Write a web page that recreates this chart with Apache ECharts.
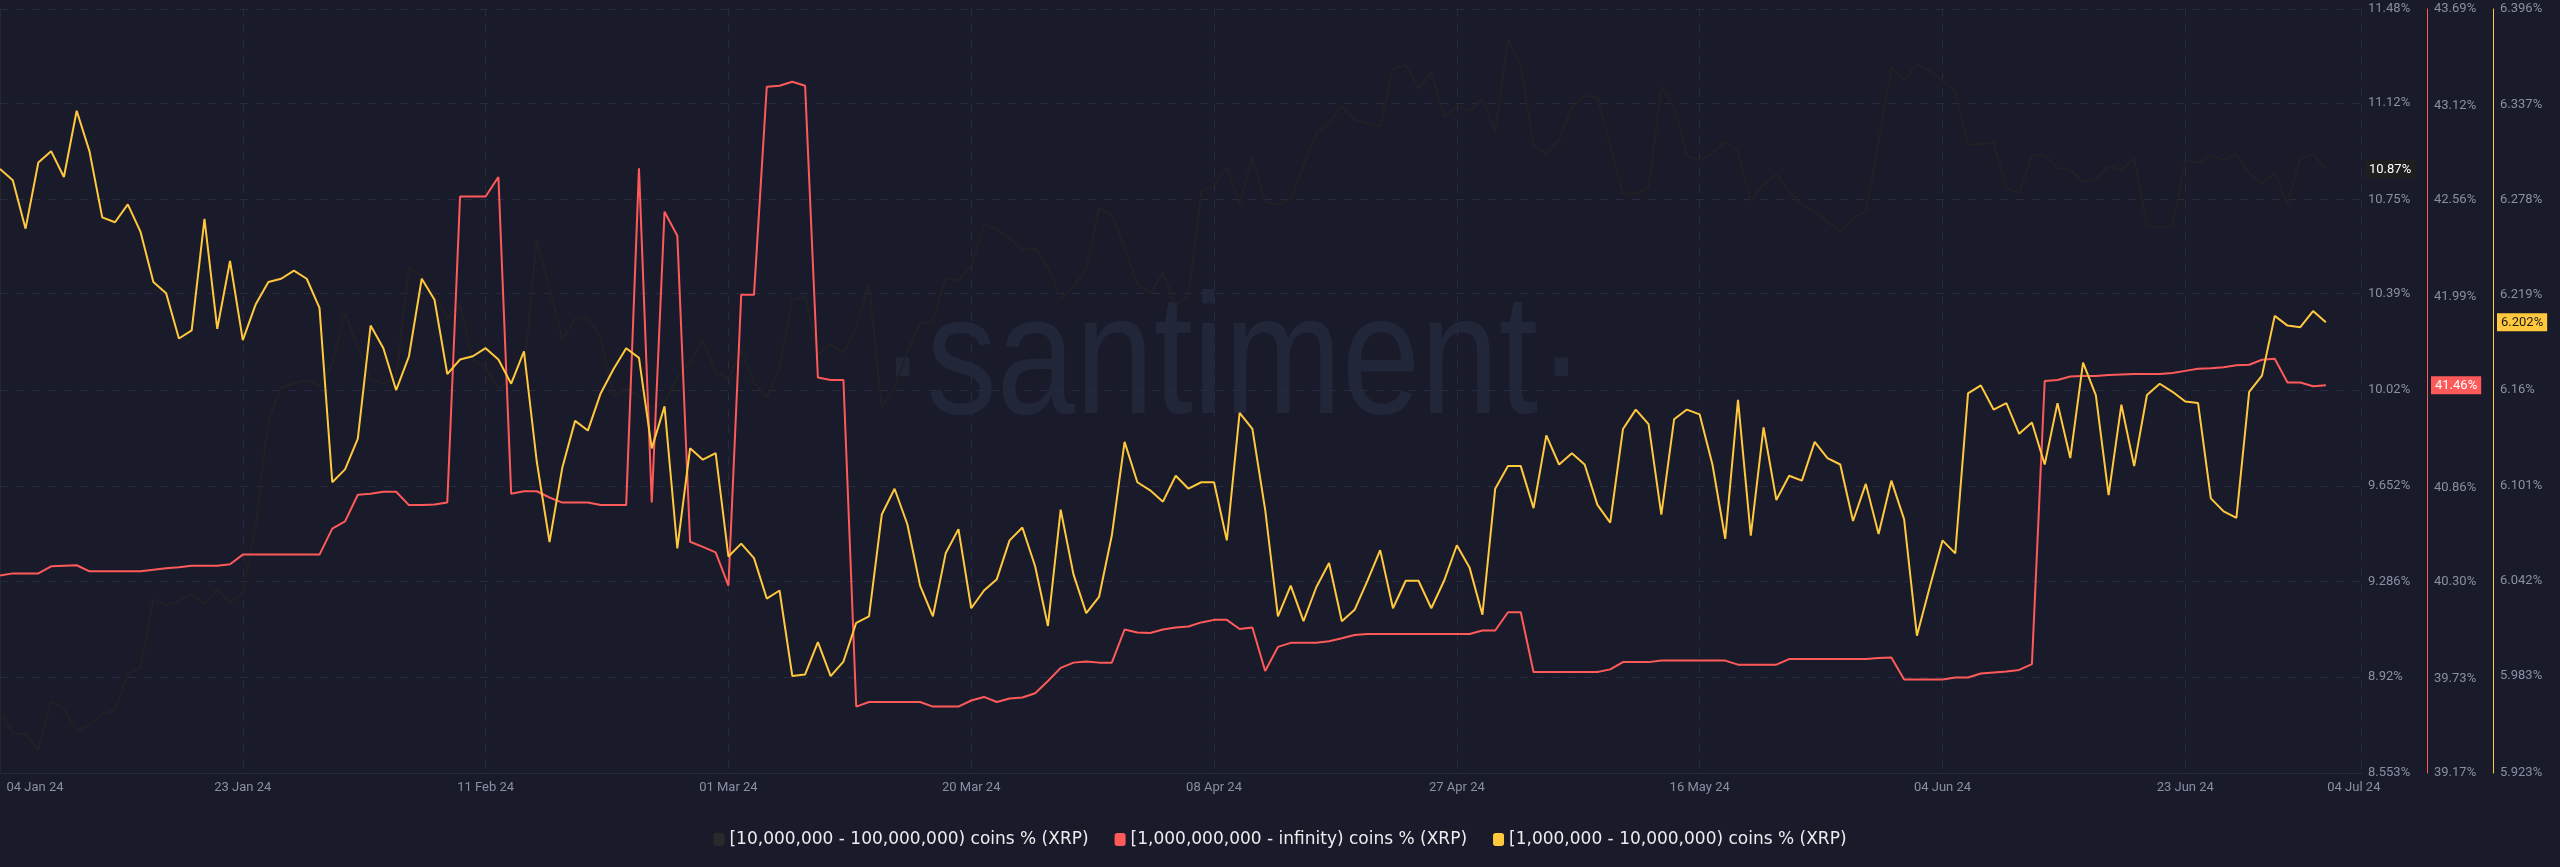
<!DOCTYPE html>
<html>
<head>
<meta charset="utf-8">
<script src="https://cdn.jsdelivr.net/npm/echarts@6/dist/echarts.min.js"></script>
<style>
html,body{margin:0;padding:0;background:#1a1b2a;}
#chart{width:2560px;height:867px;}
</style>
</head>
<body>
<div id="chart"></div>
<script>
// Day index 0 = 04 Jan 24 ... 182 = 04 Jul 24 (daily points)
const xTickDays = [0, 19, 38, 57, 76, 95, 114, 133, 152, 171, 182];
const xTickLabels = ['04 Jan 24','23 Jan 24','11 Feb 24','01 Mar 24','20 Mar 24','08 Apr 24','27 Apr 24','16 May 24','04 Jun 24','23 Jun 24','04 Jul 24'];

const seriesNames = [
  '[10,000,000 - 100,000,000) coins % (XRP)',
  '[1,000,000,000 - infinity) coins % (XRP)',
  '[1,000,000 - 10,000,000) coins % (XRP)'
];

// [10,000,000 - 100,000,000) coins %
const midHolders = [
  8.788,8.706,8.700,8.642,8.827,8.798,8.716,8.736,8.779,8.794,
  8.931,8.958,9.218,9.195,9.213,9.238,9.199,9.258,9.205,9.244,
  9.502,9.903,10.030,10.045,10.059,10.034,10.118,10.313,10.186,10.059,
  10.045,10.069,10.489,10.460,10.382,10.294,10.346,10.137,10.108,10.026,
  10.059,10.079,10.597,10.411,10.215,10.294,10.294,10.221,9.995,10.026,
  9.995,9.952,9.971,10.069,10.127,10.210,10.088,10.065,10.170,10.049,
  9.991,10.108,10.367,10.378,10.157,10.196,10.163,10.258,10.425,9.955,
  10.030,10.167,10.274,10.284,10.450,10.440,10.495,10.655,10.636,10.601,
  10.558,10.561,10.489,10.372,10.417,10.483,10.718,10.691,10.567,10.425,
  10.391,10.470,10.346,10.382,10.782,10.802,10.874,10.733,10.909,10.743,
  10.730,10.753,10.880,11.007,11.042,11.109,11.056,11.042,11.031,11.252,
  11.265,11.173,11.238,11.066,11.109,11.089,11.134,11.011,11.363,11.261,
  10.958,10.925,10.978,11.105,11.148,11.140,10.958,10.773,10.773,10.796,
  11.183,11.105,10.919,10.900,10.929,10.972,10.933,10.743,10.808,10.847,
  10.782,10.730,10.704,10.665,10.626,10.679,10.704,10.968,11.257,11.207,
  11.271,11.242,11.207,11.163,10.958,10.964,10.968,10.792,10.777,10.919,
  10.919,10.870,10.864,10.816,10.827,10.878,10.864,10.909,10.651,10.640,
  10.651,10.900,10.890,10.919,10.900,10.925,10.851,10.812,10.851,10.733,
  10.909,10.925,10.867
];

// [1,000,000,000 - infinity) coins %
const whaleHolders = [
  40.339,40.351,40.351,40.351,40.393,40.396,40.399,40.363,40.363,40.363,
  40.363,40.363,40.372,40.381,40.387,40.396,40.396,40.396,40.405,40.462,
  40.462,40.462,40.462,40.462,40.462,40.462,40.616,40.659,40.816,40.822,
  40.834,40.834,40.755,40.755,40.758,40.770,42.581,42.581,42.581,42.696,
  40.822,40.837,40.837,40.800,40.770,40.770,40.770,40.755,40.755,40.755,
  42.747,40.770,42.491,42.349,40.538,40.508,40.475,40.278,41.999,41.999,
  43.230,43.236,43.260,43.236,41.510,41.495,41.495,39.563,39.590,39.590,
  39.590,39.590,39.590,39.563,39.563,39.563,39.599,39.620,39.590,39.611,
  39.617,39.642,39.714,39.792,39.823,39.829,39.823,39.823,40.019,40.001,
  39.998,40.019,40.031,40.037,40.061,40.076,40.076,40.022,40.031,39.774,
  39.916,39.940,39.940,39.940,39.949,39.967,39.986,39.992,39.992,39.992,
  39.992,39.992,39.992,39.992,39.992,39.992,40.013,40.013,40.121,40.121,
  39.768,39.768,39.768,39.768,39.768,39.768,39.783,39.826,39.826,39.826,
  39.835,39.835,39.835,39.835,39.835,39.835,39.811,39.811,39.811,39.811,
  39.844,39.844,39.844,39.844,39.844,39.844,39.844,39.850,39.853,39.723,
  39.723,39.723,39.723,39.735,39.735,39.759,39.765,39.771,39.780,39.814,
  41.489,41.495,41.516,41.519,41.519,41.525,41.528,41.531,41.531,41.531,
  41.537,41.549,41.561,41.564,41.570,41.582,41.585,41.615,41.621,41.480,
  41.480,41.458,41.464
];

// [1,000,000 - 10,000,000) coins %
const smallHolders = [
  6.297,6.290,6.260,6.301,6.308,6.292,6.333,6.308,6.267,6.264,
  6.275,6.258,6.227,6.220,6.192,6.197,6.266,6.198,6.240,6.191,
  6.213,6.227,6.229,6.234,6.229,6.211,6.103,6.111,6.130,6.200,
  6.186,6.160,6.181,6.229,6.216,6.170,6.179,6.181,6.186,6.179,
  6.164,6.184,6.116,6.066,6.112,6.141,6.135,6.158,6.173,6.186,
  6.180,6.124,6.150,6.062,6.124,6.117,6.121,6.057,6.065,6.056,
  6.031,6.036,5.983,5.984,6.004,5.983,5.992,6.016,6.020,6.083,
  6.099,6.077,6.039,6.020,6.059,6.074,6.025,6.036,6.043,6.067,
  6.075,6.051,6.014,6.086,6.046,6.022,6.032,6.070,6.128,6.103,
  6.098,6.091,6.107,6.099,6.103,6.103,6.067,6.146,6.136,6.086,
  6.020,6.039,6.017,6.038,6.053,6.017,6.024,6.042,6.061,6.025,
  6.042,6.042,6.025,6.042,6.064,6.050,6.021,6.099,6.113,6.113,
  6.087,6.132,6.114,6.121,6.114,6.089,6.078,6.136,6.148,6.139,
  6.083,6.142,6.148,6.145,6.114,6.068,6.154,6.070,6.137,6.092,
  6.107,6.104,6.128,6.118,6.114,6.079,6.102,6.071,6.104,6.080,
  6.008,6.038,6.067,6.059,6.158,6.163,6.148,6.152,6.133,6.140,
  6.114,6.152,6.118,6.177,6.157,6.095,6.151,6.113,6.157,6.164,
  6.159,6.153,6.152,6.093,6.085,6.081,6.159,6.169,6.206,6.200,
  6.199,6.209,6.202
];

const midTicks = [8.553, 8.92, 9.286, 9.652, 10.02, 10.39, 10.75, 11.12, 11.48];
const midTickText = ['8.553%','8.92%','9.286%','9.652%','10.02%','10.39%','10.75%','11.12%','11.48%'];
const whaleTicks = [39.17, 39.73, 40.30, 40.86, 41.43, 41.99, 42.56, 43.12, 43.69];
const whaleTickText = ['39.17%','39.73%','40.30%','40.86%','41.43%','41.99%','42.56%','43.12%','43.69%'];
const smallTicks = [5.923, 5.983, 6.042, 6.101, 6.16, 6.219, 6.278, 6.337, 6.396];
const smallTickText = ['5.923%','5.983%','6.042%','6.101%','6.16%','6.219%','6.278%','6.337%','6.396%'];
const lastValueText = ['10.87%', '41.46%', '6.202%'];

const COLORS = ['#212125', '#ff5a5a', '#ffc83d'];
const LEGEND_ICON = ['#2a2a2c', '#ff5a5a', '#ffc83d'];
const BG = '#1a1b2a';
const GRIDC = '#272b3f';
const LABELC = '#8a8fa3';
const FONT = 'Roboto, "Liberation Sans", sans-serif';

function tickFormatter(ticks, texts) {
  return function (v) {
    for (let i = 0; i < ticks.length; i++) {
      if (Math.abs(ticks[i] - v) < 1e-6) return texts[i];
    }
    return '';
  };
}

function yAxisDef(ticks, texts, offset, lineColor, showSplit, lastVal, lastText, pBg, pColor) {
  return {
    type: 'value',
    position: 'right',
    offset: offset,
    min: ticks[0],
    max: ticks[ticks.length - 1],
    axisLine: { show: true, lineStyle: { color: lineColor, width: 1 } },
    axisTick: { show: false, customValues: ticks },
    axisLabel: {
      customValues: ticks,
      formatter: tickFormatter(ticks, texts),
      color: LABELC, fontSize: 13, fontFamily: FONT, margin: 7
    },
    splitLine: { show: showSplit, lineStyle: { color: GRIDC, type: [8, 8], width: 1 } },
    axisPointer: {
      show: true, status: 'show', value: lastVal, type: 'line', triggerTooltip: false,
      lineStyle: { opacity: 0 },
      label: {
        show: true, formatter: function () { return lastText; },
        backgroundColor: pBg, color: pColor, padding: [3, 4, 2, 4], margin: 4,
        fontSize: 13, fontFamily: FONT, borderRadius: 0
      }
    }
  };
}

const chart = echarts.init(document.getElementById('chart'), null, { renderer: 'canvas' });

const option = {
  backgroundColor: BG,
  animation: false,
  grid: { left: 0, right: 199, top: 9, bottom: 94, containLabel: false },
  graphic: [{
    type: 'text', x: 1232, y: 366, z: 0, silent: true, scaleX: 0.83,
    style: {
      text: '\u00B7santiment\u00B7', fill: '#222639', font: '170px "Liberation Sans", Arial, sans-serif',
      textAlign: 'center', textVerticalAlign: 'middle', verticalAlign: 'middle'
    }
  }],
  legend: {
    top: 826,
    left: 'center',
    itemGap: 26,
    itemWidth: 11,
    itemHeight: 13,
    icon: 'roundRect',
    textStyle: { color: '#ececee', fontSize: 17, fontFamily: '"DejaVu Sans", sans-serif' },
    data: seriesNames.map((n, i) => ({ name: n, itemStyle: { color: LEGEND_ICON[i] } }))
  },
  xAxis: {
    type: 'value',
    min: 0, max: 184.75, interval: 19,
    axisLine: { show: true, lineStyle: { color: '#262a3c' } },
    axisTick: { show: false },
    splitLine: { show: true, lineStyle: { color: GRIDC, type: [8, 8], width: 1 } },
    axisLabel: {
      customValues: xTickDays,
      margin: 8,
      color: LABELC, fontSize: 13, fontFamily: FONT,
      formatter: function (v) {
        const i = xTickDays.indexOf(Math.round(v));
        if (i < 0) return '';
        if (i === 0) return '{first|' + xTickLabels[i] + '}';
        if (i === xTickDays.length - 1) return '{last|' + xTickLabels[i] + '}';
        return xTickLabels[i];
      },
      rich: {
        first: { padding: [0, 0, 0, 70], color: LABELC, fontSize: 13, fontFamily: FONT },
        last: { padding: [0, 0, 0, 56], color: LABELC, fontSize: 13, fontFamily: FONT }
      }
    }
  },
  yAxis: [
    yAxisDef(midTicks, midTickText, 0, '#25262e', true, midHolders[midHolders.length - 1], lastValueText[0], '#1e1e1f', '#ffffff'),
    yAxisDef(whaleTicks, whaleTickText, 66, COLORS[1], false, whaleHolders[whaleHolders.length - 1], lastValueText[1], COLORS[1], '#ffffff'),
    yAxisDef(smallTicks, smallTickText, 132, COLORS[2], false, smallHolders[smallHolders.length - 1], lastValueText[2], COLORS[2], '#1a1a1a')
  ],
  series: [
    { name: seriesNames[0], type: 'line', yAxisIndex: 0, showSymbol: false, color: COLORS[0],
      lineStyle: { width: 2, color: COLORS[0] }, data: midHolders.map((v, i) => [i, v]) },
    { name: seriesNames[1], type: 'line', yAxisIndex: 1, showSymbol: false, color: COLORS[1],
      lineStyle: { width: 2, color: COLORS[1] }, data: whaleHolders.map((v, i) => [i, v]) },
    { name: seriesNames[2], type: 'line', yAxisIndex: 2, showSymbol: false, color: COLORS[2],
      lineStyle: { width: 2, color: COLORS[2] }, data: smallHolders.map((v, i) => [i, v]) }
  ]
};
chart.setOption(option);
</script>
</body>
</html>
